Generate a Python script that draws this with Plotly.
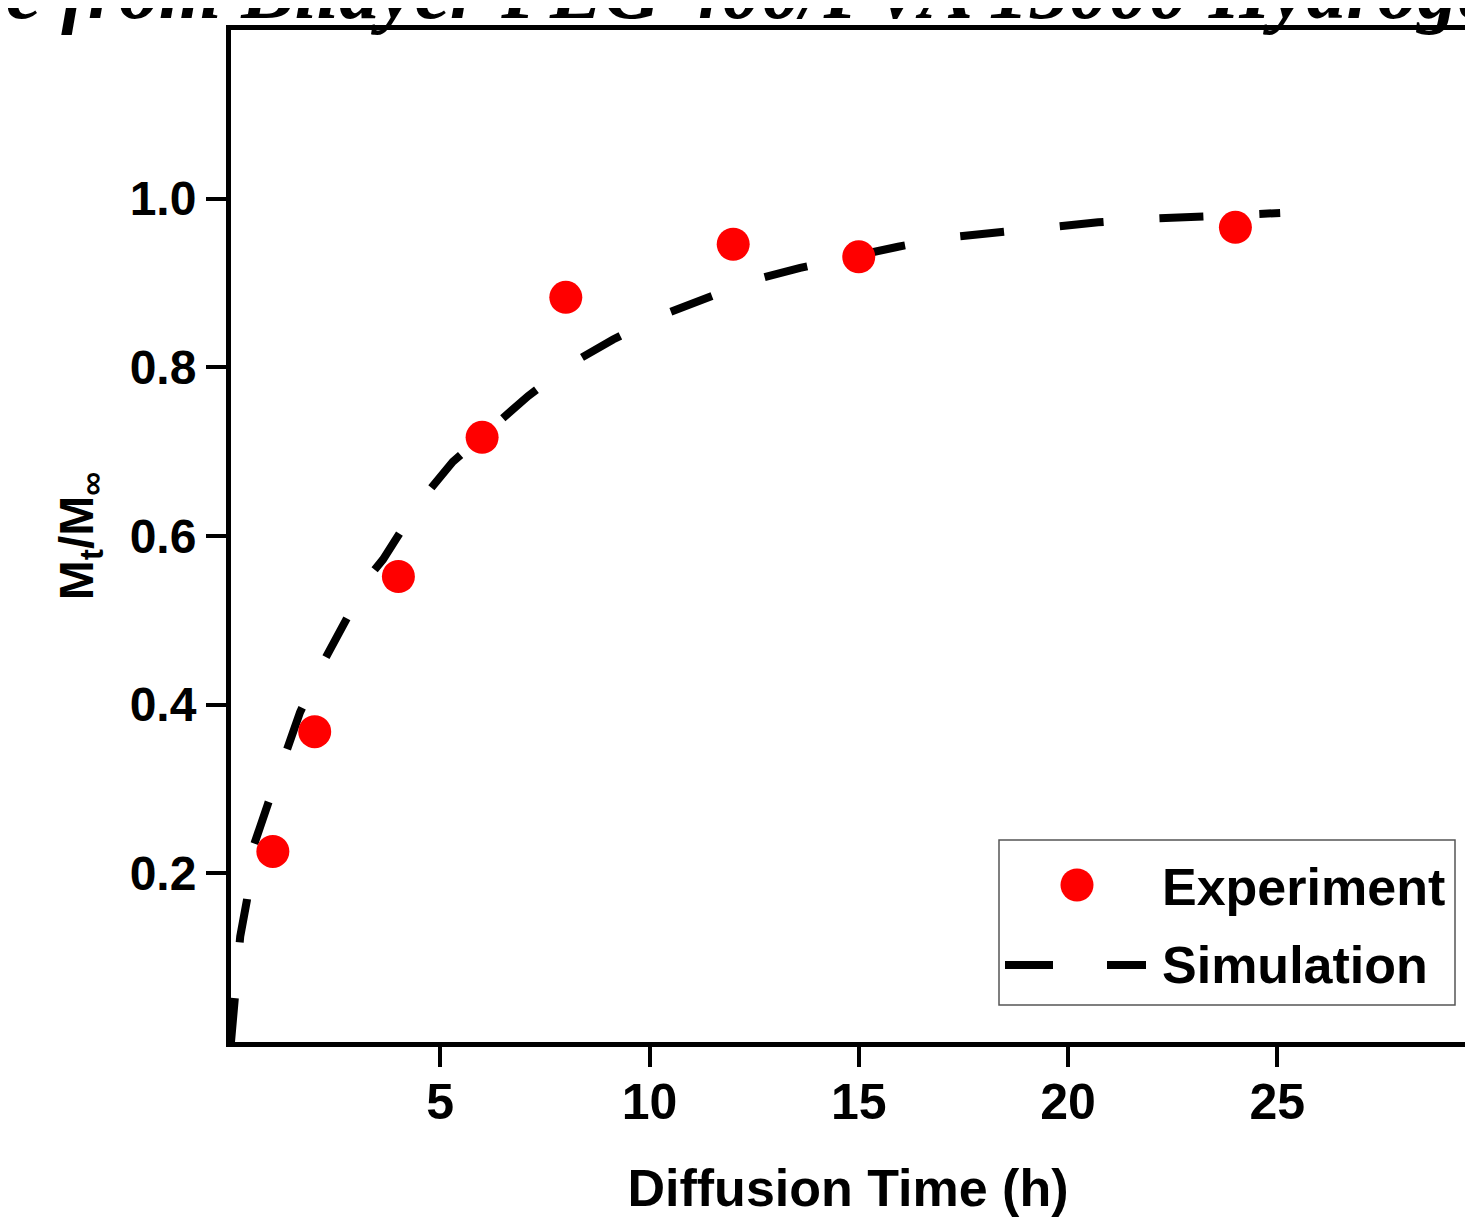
import plotly.graph_objects as go

# ---------------- data ----------------
exp_time = [1, 2, 4, 6, 8, 12, 15, 24]
exp_ratio = [0.226, 0.368, 0.552, 0.717, 0.883, 0.946, 0.931, 0.966]

sim_time = [0.0, 0.05, 0.12, 0.22, 0.38, 0.53, 0.88, 1.29, 1.65, 2.20, 2.70, 3.32, 3.63,
            4.50, 5.30, 6.00, 6.24, 7.10, 8.15, 9.13, 10.30, 11.37, 12.52, 13.60,
            14.84, 15.94, 17.13, 18.33, 19.52, 20.72, 21.89, 23.08, 24.28, 25.07]
sim_ratio = [0.0, 0.030, 0.080, 0.125, 0.168, 0.231, 0.282, 0.344, 0.391, 0.450, 0.498, 0.553, 0.572,
             0.640, 0.688, 0.718, 0.729, 0.766, 0.805, 0.833, 0.862, 0.882, 0.904, 0.918,
             0.932, 0.943, 0.954, 0.960, 0.967, 0.972, 0.976, 0.979, 0.982, 0.983]

x_ticks = [5, 10, 15, 20, 25]
y_ticks = [0.2, 0.4, 0.6, 0.8, 1.0]
y_ticktext = ["0.2", "0.4", "0.6", "0.8", "1.0"]

series_names = ["Experiment", "Simulation"]
x_title = "Diffusion Time (h)"
y_title = "M<sub>t</sub>/M<sub>∞</sub>"
top_title = "Release from Bilayer PEG 400/PVA 15000 Hydrogel"

# ---------------- geometry (screen pixels; page body has an 8px offset) ----------------
OFF = 8
W, H = 1457, 1209
L, T, B = 231, 30, 1042          # plot edges on screen
R = OFF + W                        # right edge of figure on screen
PW, PH = R - L, B - T

def px(xp):
    return (xp - L) / PW

def py(yp):
    return (B - yp) / PH

FONT = "Arial, Liberation Sans, sans-serif"

fig = go.Figure()

fig.add_trace(go.Scatter(
    x=sim_time, y=sim_ratio, mode="lines", name=series_names[1],
    line=dict(color="black", width=8, dash="44px,56px"),
    showlegend=False, cliponaxis=False,
))
fig.add_trace(go.Scatter(
    x=exp_time, y=exp_ratio, mode="markers", name=series_names[0],
    marker=dict(color="#FF0000", size=33, line=dict(width=0)),
    showlegend=False, cliponaxis=False,
))

# custom legend (box, symbols, labels)
shapes = [
    dict(type="rect", xref="paper", yref="paper",
         x0=px(999), x1=px(1455), y0=py(1005), y1=py(840),
         line=dict(color="#555555", width=1.5), fillcolor="white", layer="above"),
    dict(type="circle", xref="paper", yref="paper",
         xsizemode="pixel", ysizemode="pixel",
         xanchor=px(1077), yanchor=py(885),
         x0=-16.5, x1=16.5, y0=-16.5, y1=16.5,
         line=dict(width=0), fillcolor="#FF0000", layer="above"),
    dict(type="line", xref="paper", yref="paper",
         x0=px(1005), x1=px(1053), y0=py(965), y1=py(965),
         line=dict(color="black", width=8), layer="above"),
    dict(type="line", xref="paper", yref="paper",
         x0=px(1107), x1=px(1146), y0=py(965), y1=py(965),
         line=dict(color="black", width=8), layer="above"),
]

annotations = [
    dict(text=series_names[0], xref="paper", yref="paper", x=px(1160), y=py(887),
         xanchor="left", yanchor="middle", showarrow=False,
         font=dict(family=FONT, size=52, color="black", weight="bold")),
    dict(text=series_names[1], xref="paper", yref="paper", x=px(1160), y=py(965),
         xanchor="left", yanchor="middle", showarrow=False,
         font=dict(family=FONT, size=52, color="black", weight="bold")),
    dict(text=top_title, xref="paper", yref="paper", x=px(-215), y=py(37),
         xanchor="left", yanchor="bottom", showarrow=False,
         font=dict(family="Liberation Serif, serif", size=80, color="black",
                   weight="bold", style="italic")),
]

fig.update_layout(
    width=W, height=H,
    margin=dict(l=L - OFF, r=0, t=T - OFF, b=H - (B - OFF), autoexpand=False),
    paper_bgcolor="white", plot_bgcolor="white",
    showlegend=False,
    shapes=shapes, annotations=annotations,
    font=dict(family=FONT, color="black"),
)

fig.update_xaxes(
    range=[0, PW / 41.85], tickvals=x_ticks,
    showline=True, linecolor="black", linewidth=5, mirror=True,
    ticks="outside", ticklen=20, tickwidth=4, tickcolor="black",
    ticklabelstandoff=-8,
    showgrid=False, zeroline=False,
    tickfont=dict(family=FONT, size=50, color="black", weight="bold"),
    title=dict(text=x_title, standoff=44,
               font=dict(family=FONT, size=52, color="black", weight="bold")),
)
fig.update_yaxes(
    range=[0, 1.2], tickvals=y_ticks, ticktext=y_ticktext,
    showline=True, linecolor="black", linewidth=5, mirror=False,
    ticks="outside", ticklen=20, tickwidth=4, tickcolor="black",
    showgrid=False, zeroline=False,
    tickfont=dict(family=FONT, size=48, color="black", weight="bold"),
    title=dict(text=y_title, standoff=22,
               font=dict(family=FONT, size=48, color="black", weight="bold")),
)

fig.write_html("out.html")
